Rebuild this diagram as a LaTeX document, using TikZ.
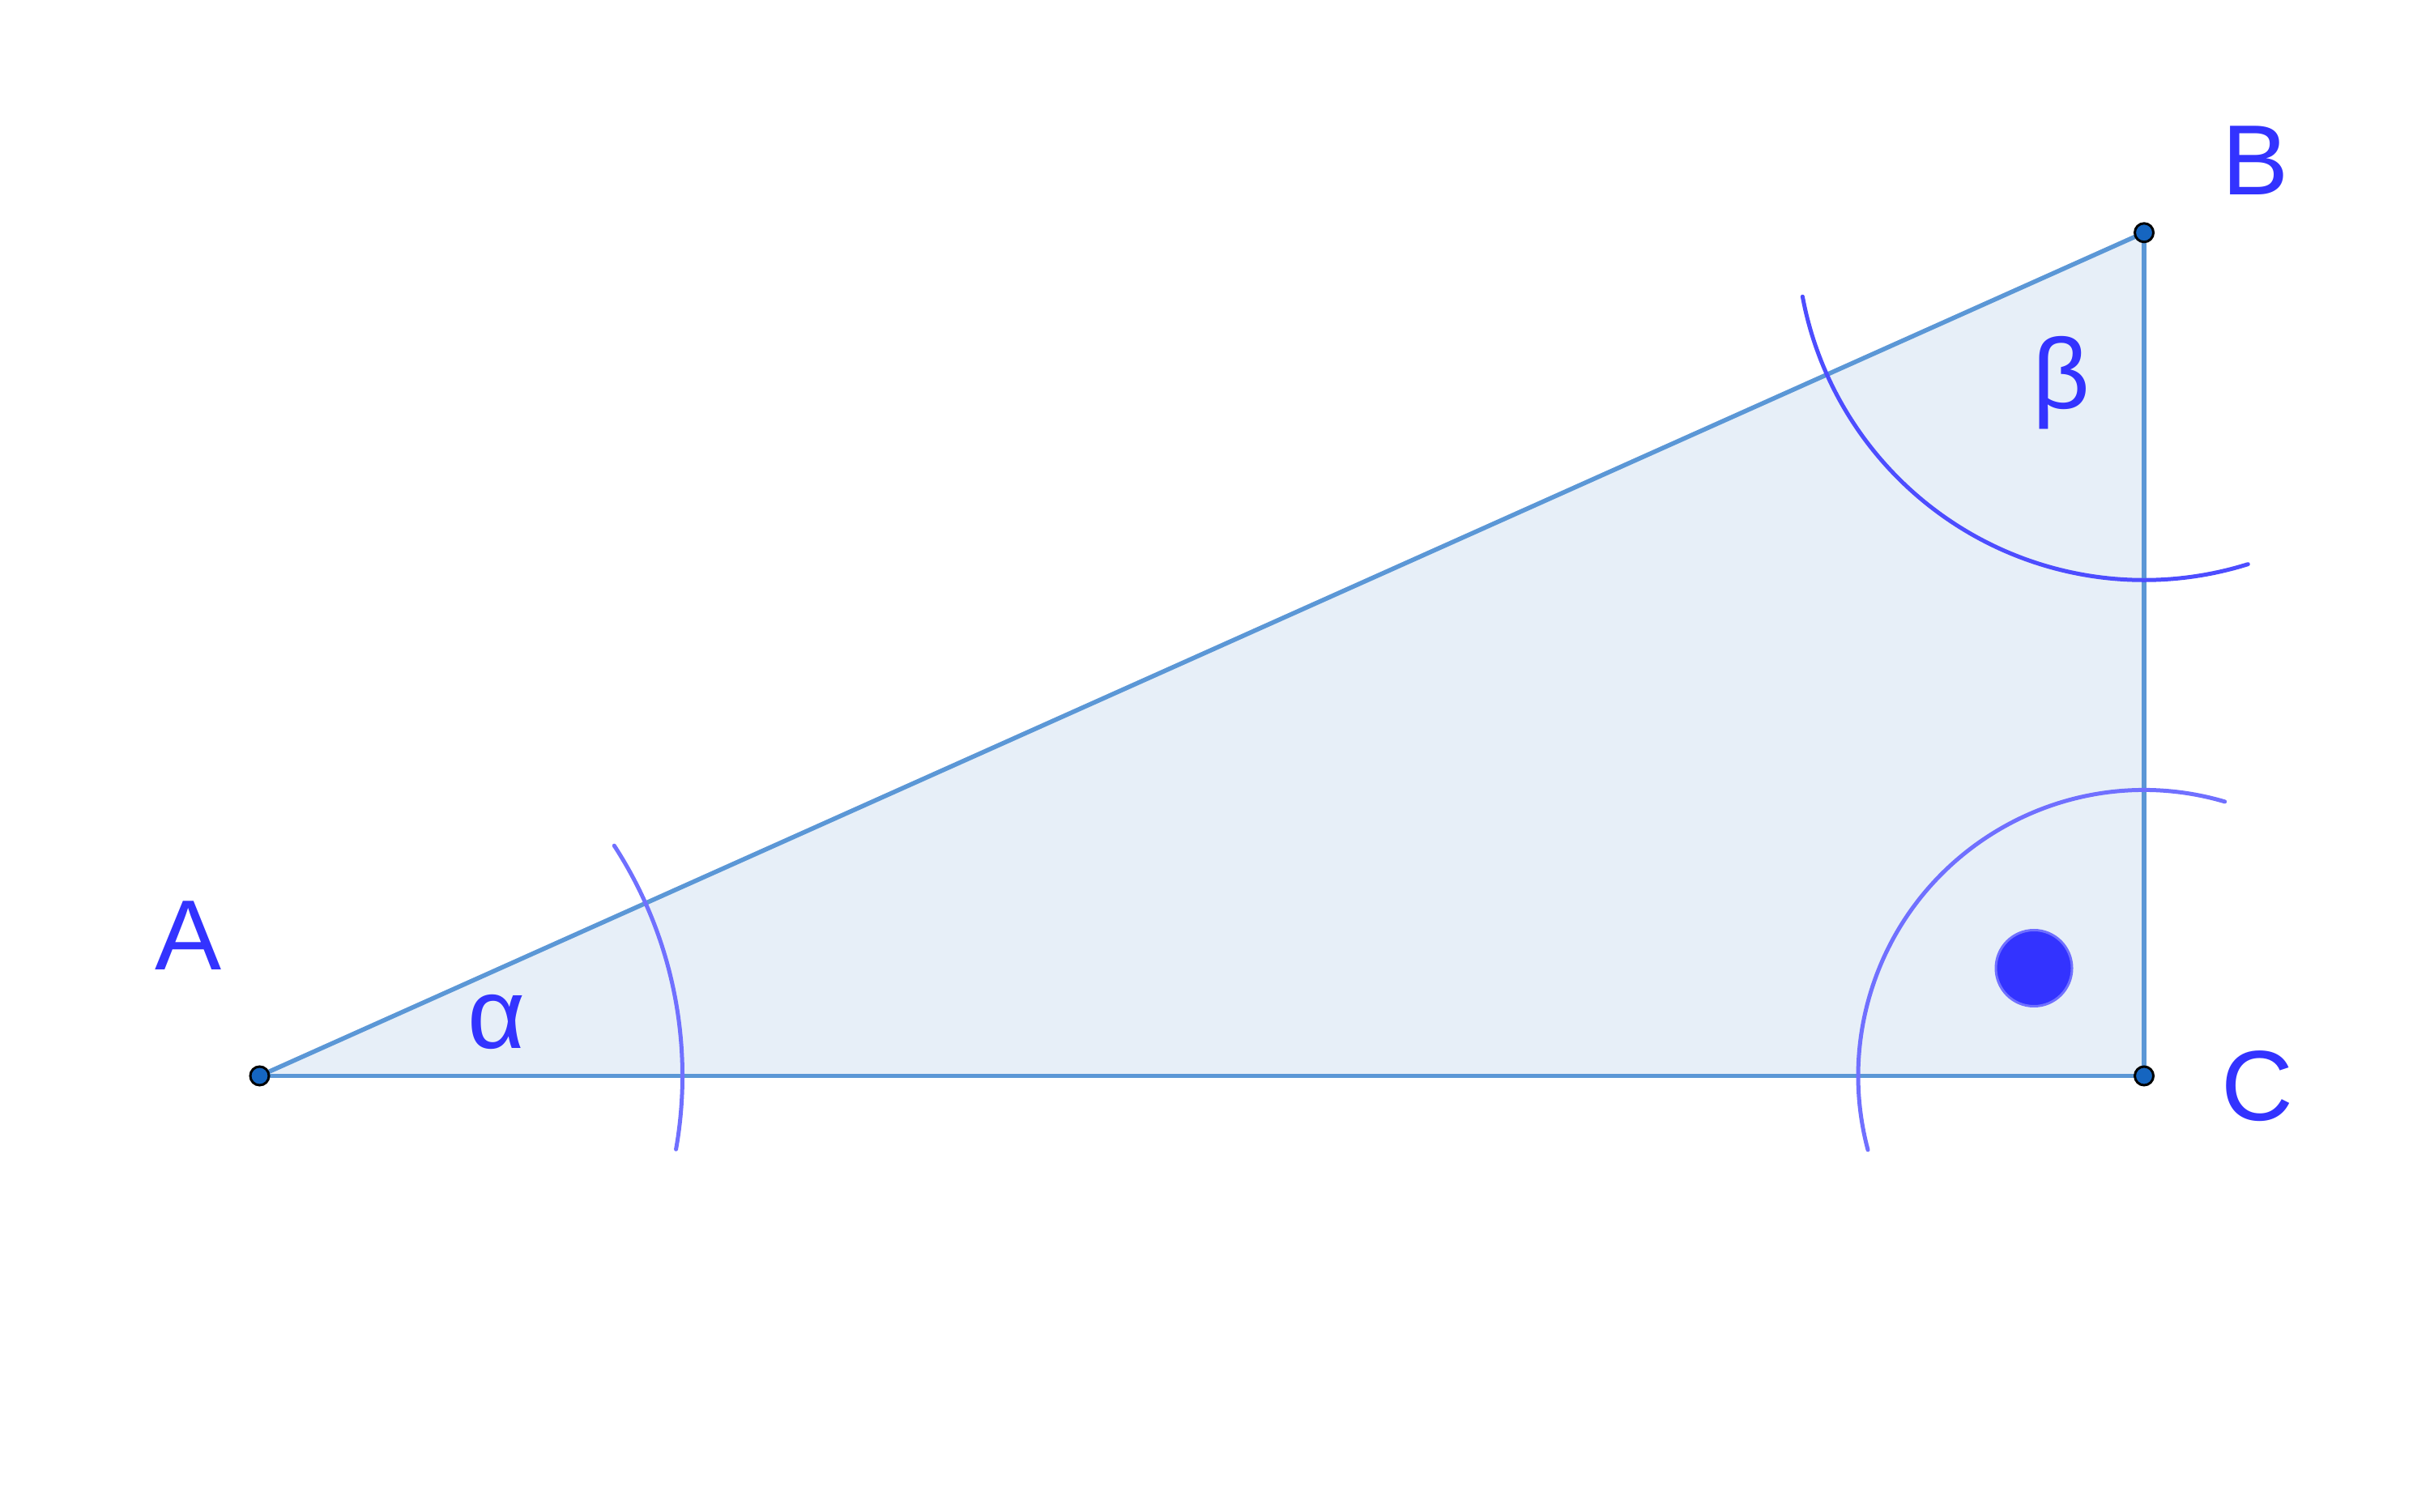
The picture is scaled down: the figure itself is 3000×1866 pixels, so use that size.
\documentclass[tikz,border=0pt]{standalone}
\usepackage{fontspec}
\setmainfont{Liberation Sans}
\definecolor{lbl}{HTML}{3333FF}
\definecolor{edge}{HTML}{5B97D6}
\definecolor{fillc}{HTML}{E7EFF8}
\definecolor{arcl}{HTML}{7070FF}
\definecolor{arcd}{HTML}{4D4DFF}
\definecolor{ptfill}{HTML}{1565C0}
\begin{document}
\begin{tikzpicture}[x=0.01cm,y=0.01cm,
  lab/.style={text=lbl,font=\fontsize{35}{40}\selectfont,anchor=base,inner sep=0pt},
  side/.style={draw=edge,line width=5.5*0.01cm},
  angarc/.style={line width=5*0.01cm,line cap=round},
  pt/.style={circle,fill=ptfill,draw=black,line width=3*0.01cm,minimum size=23*0.01cm,inner sep=0pt}]
\useasboundingbox (0,0) rectangle (3000,1866);
\coordinate (A) at (320.5,537.5);
\coordinate (B) at (2647,1578.7);
\coordinate (C) at (2647,537.5);
\fill[fillc] (A) -- (B) -- (C) -- cycle;
\draw[side] (A) -- (B);
\draw[side] (B) -- (C);
\draw[side] (C) -- (A);
\draw[angarc,arcl] ([shift={(-10:522)}]A) arc (-10:33:522);
\draw[angarc,arcd] ([shift={(190.6:429)}]B) arc (190.6:287.4:429);
\draw[angarc,arcl] ([shift={(73.6:353)}]C) arc (73.6:195:353);
\node[circle,fill=lbl,draw=arcl,line width=3*0.01cm,minimum size=94*0.01cm,inner sep=0pt] (rdot) at (2511,670.5) {};
\node[pt] (pA) at (A) {};
\node[pt] (pB) at (B) {};
\node[pt] (pC) at (C) {};
\node[lab] (lA) at (233,668) {A};
\node[lab] (lB) at (2785,1625) {B};
\node[lab] (lC) at (2787,483) {C};
\node[lab] (la) at (613,571) {α};
\node[lab] (lb) at (2545,1361) {β};
\end{tikzpicture}
\end{document}
